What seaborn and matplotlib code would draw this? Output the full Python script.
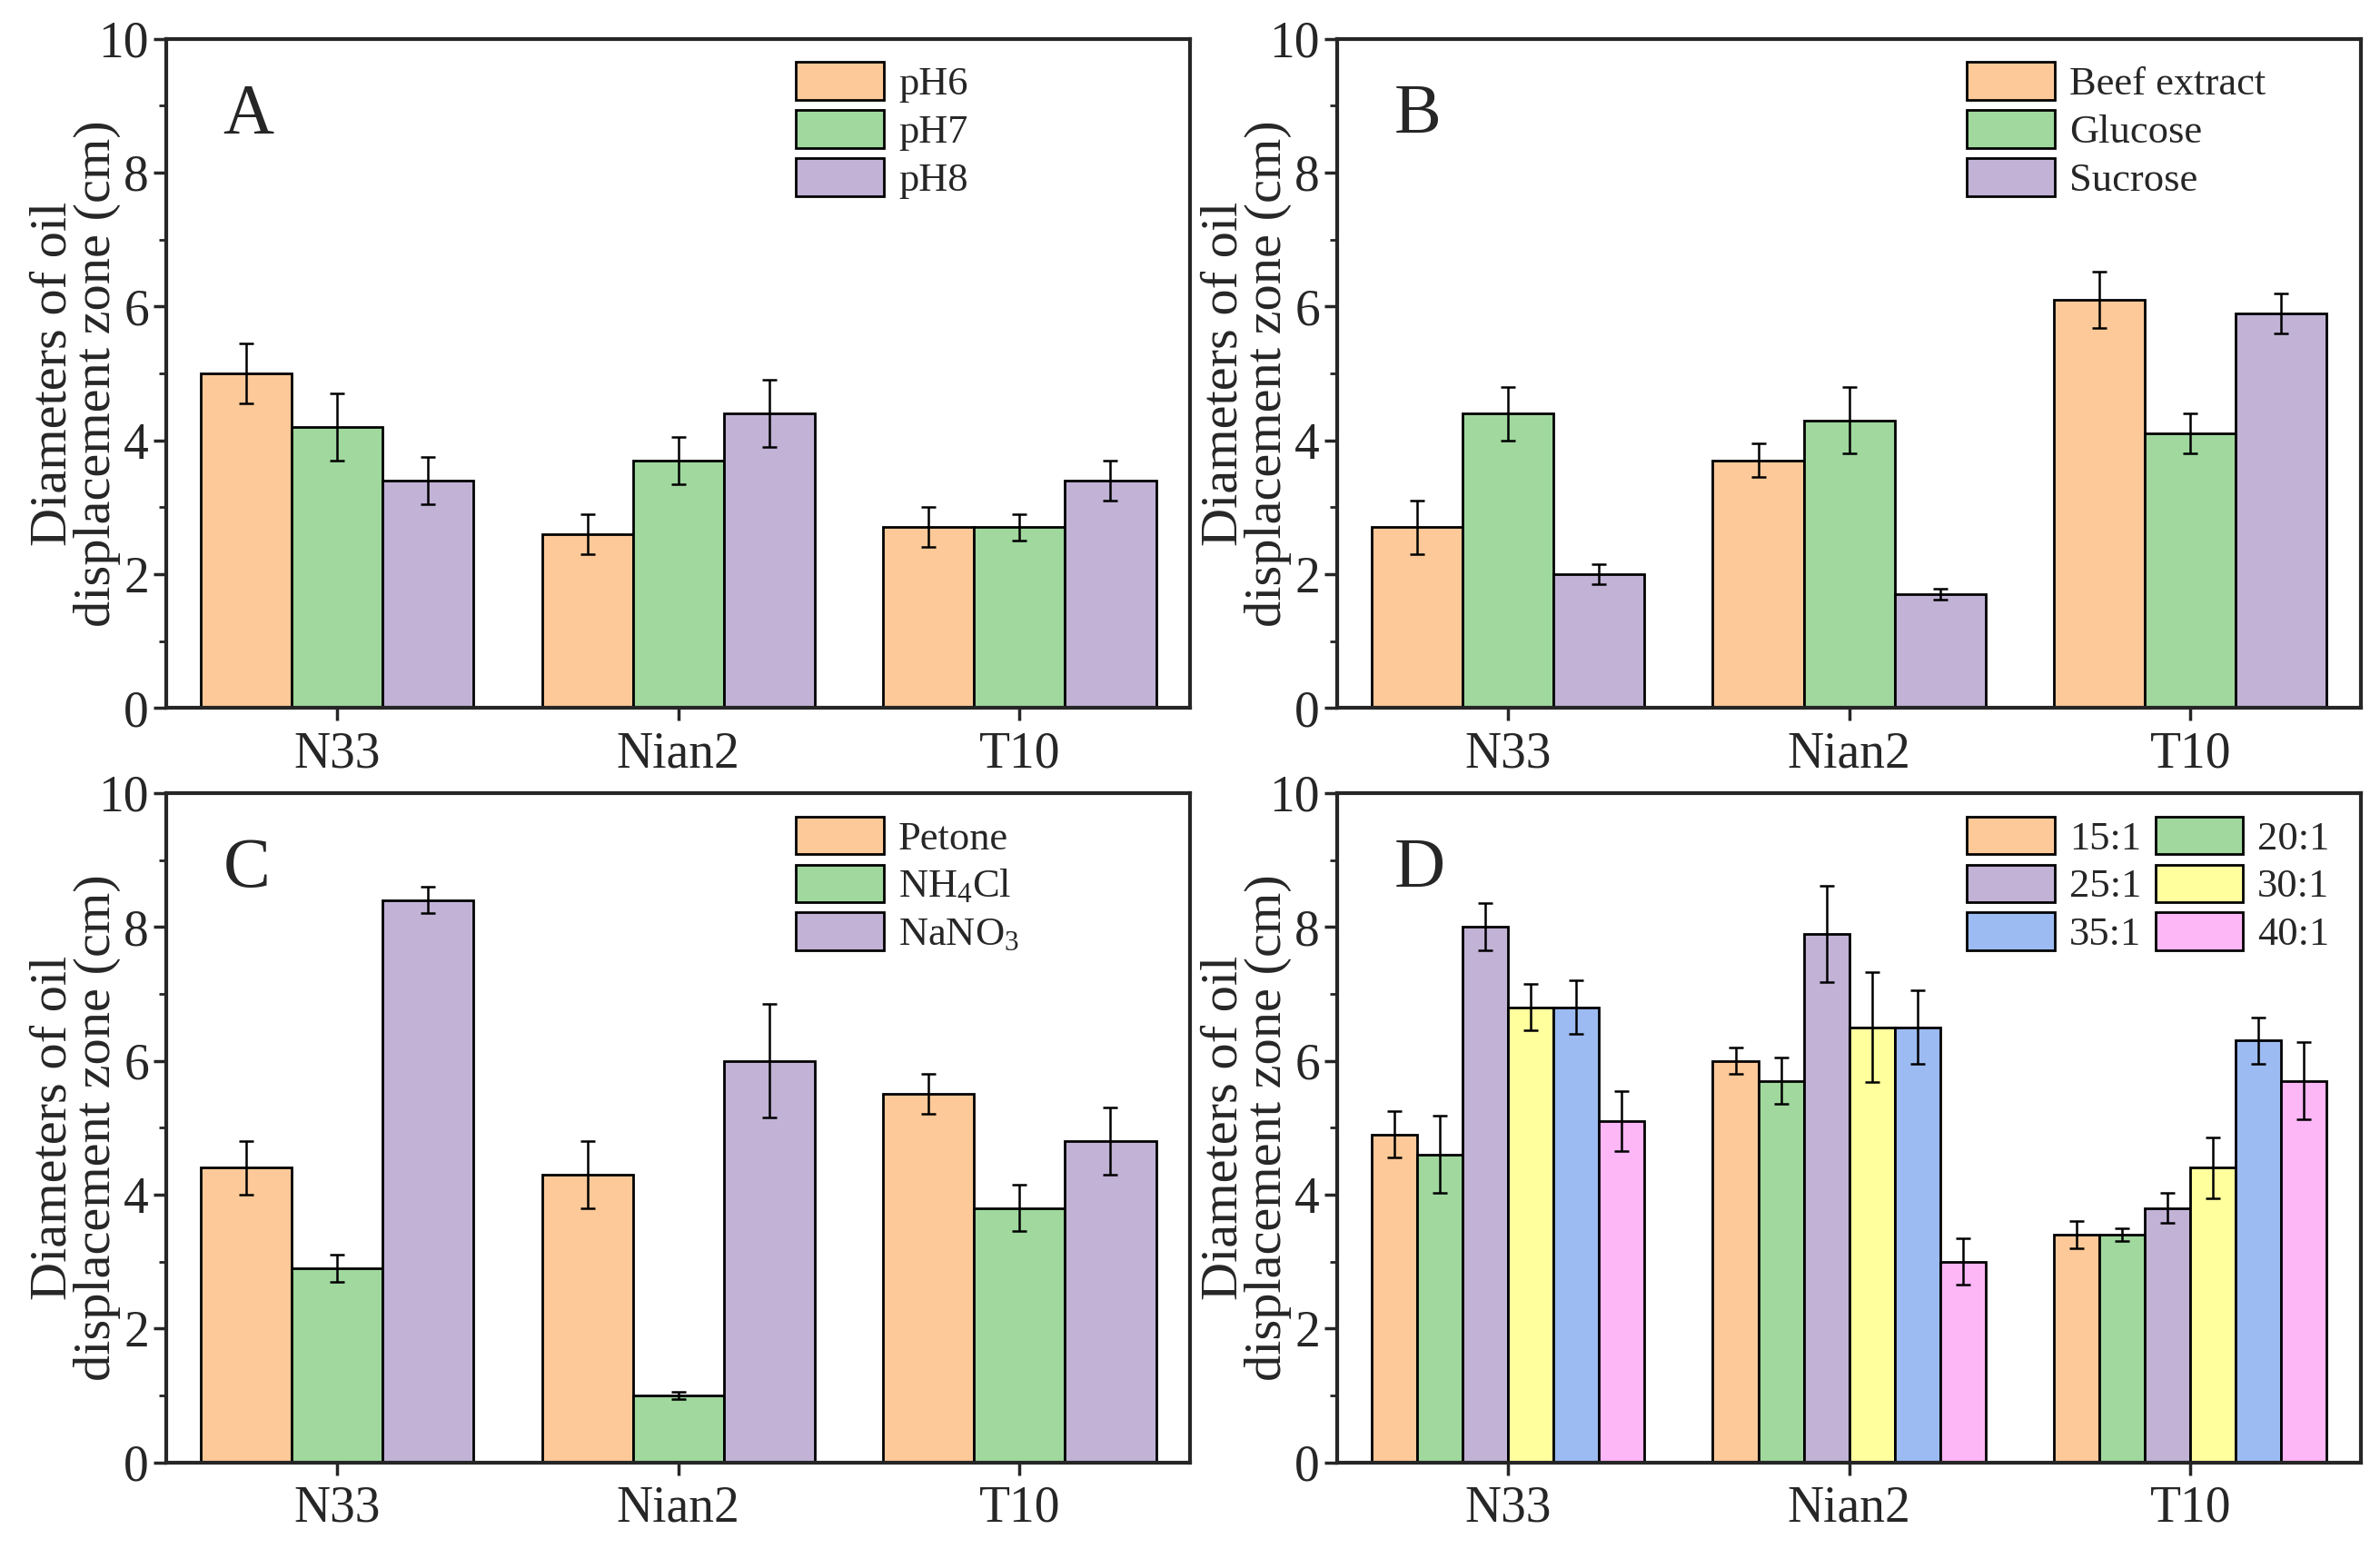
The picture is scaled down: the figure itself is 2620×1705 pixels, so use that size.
import pandas as pd
import seaborn as sns
import matplotlib.pyplot as plt
from matplotlib.ticker import MultipleLocator

strains = ['N33', 'Nian2', 'T10']

# A - pH
ph_labels = ['pH6', 'pH7', 'pH8']
ph_vals = [[5.0, 2.6, 2.7], [4.2, 3.7, 2.7], [3.4, 4.4, 3.4]]
ph_err = [[0.45, 0.3, 0.3], [0.5, 0.35, 0.2], [0.35, 0.5, 0.3]]

# B - carbon source
c_labels = ['Beef extract', 'Glucose', 'Sucrose']
c_vals = [[2.7, 3.7, 6.1], [4.4, 4.3, 4.1], [2.0, 1.7, 5.9]]
c_err = [[0.4, 0.25, 0.42], [0.4, 0.5, 0.3], [0.15, 0.08, 0.3]]

# C - nitrogen source
n_labels = ['Petone', 'NH$_{4}$Cl', 'NaNO$_{3}$']
n_vals = [[4.4, 4.3, 5.5], [2.9, 1.0, 3.8], [8.4, 6.0, 4.8]]
n_err = [[0.4, 0.5, 0.3], [0.2, 0.05, 0.35], [0.2, 0.85, 0.5]]

# D - C/N ratio
r_labels = ['15:1', '20:1', '25:1', '30:1', '35:1', '40:1']
r_vals = [[4.9, 6.0, 3.4], [4.6, 5.7, 3.4], [8.0, 7.9, 3.8],
          [6.8, 6.5, 4.4], [6.8, 6.5, 6.3], [5.1, 3.0, 5.7]]
r_err = [[0.35, 0.2, 0.2], [0.58, 0.35, 0.1], [0.35, 0.72, 0.22],
         [0.35, 0.82, 0.45], [0.4, 0.55, 0.35], [0.45, 0.35, 0.58]]

colors = ['#FDC998', '#A0D89E', '#C1B2D6', '#FFFF9E', '#9CBBF2', '#FDB6F6']

sns.set_style('ticks')
plt.rcParams['font.family'] = ['Liberation Serif', 'DejaVu Serif']
plt.rcParams['mathtext.fontset'] = 'custom'
plt.rcParams['mathtext.rm'] = 'Liberation Serif'
plt.rcParams['mathtext.it'] = 'Liberation Serif:italic'


def draw_panel(ax, labels, vals, errs, letter, ncol=1):
    df = pd.DataFrame({
        'strain': strains * len(labels),
        'group': [l for l in labels for _ in strains],
        'value': [v for row in vals for v in row],
    })
    sns.barplot(data=df, x='strain', y='value', hue='group',
                palette=colors[:len(labels)], saturation=1,
                edgecolor='black', linewidth=2, errorbar=None, ax=ax)
    for cont, err in zip(ax.containers, errs):
        xs = [p.get_x() + p.get_width() / 2 for p in cont]
        hs = [p.get_height() for p in cont]
        ax.errorbar(xs, hs, yerr=err, fmt='none', ecolor='black',
                    elinewidth=1.8, capsize=6, capthick=1.8)

    ax.set_ylim(0, 10)
    ax.set_xlim(-0.5, 2.5)
    ax.yaxis.set_major_locator(MultipleLocator(2))
    ax.yaxis.set_minor_locator(MultipleLocator(1))
    ax.tick_params(axis='both', which='major', labelsize=40, width=2.5, length=10, direction='out')
    ax.tick_params(axis='y', which='minor', width=2, length=6, direction='out')
    ax.tick_params(axis='x', pad=8)
    ax.tick_params(axis='y', pad=4)
    for s in ax.spines.values():
        s.set_linewidth(3)
        s.set_visible(True)
    ax.set_xlabel('')
    ax.set_ylabel('Diameters of oil\ndisplacement zone (cm)', fontsize=42,
                  linespacing=0.9)
    ax.yaxis.set_label_coords(-0.045, 0.5)
    ax.text(0.055, 0.885, letter, transform=ax.transAxes, fontsize=56,
            ha='left', va='center')

    handles, labs = ax.get_legend_handles_labels()
    if ncol == 2:
        order = [0, 2, 4, 1, 3, 5]
        handles = [handles[i] for i in order]
        labs = [labs[i] for i in order]
    ax.legend(handles, labs, loc='upper left', bbox_to_anchor=(0.615, 0.965),
              ncol=ncol, frameon=False, fontsize=32, borderaxespad=0,
              borderpad=0, handlelength=2.18, handleheight=1.06,
              labelspacing=0.18, handletextpad=0.35, columnspacing=0.35)


fig, axes = plt.subplots(2, 2, figsize=(26.2, 17.05), dpi=100)
fig.subplots_adjust(left=0.070, right=0.992, bottom=0.056, top=0.975,
                    wspace=0.144, hspace=0.127)

draw_panel(axes[0, 0], ph_labels, ph_vals, ph_err, 'A')
draw_panel(axes[0, 1], c_labels, c_vals, c_err, 'B')
draw_panel(axes[1, 0], n_labels, n_vals, n_err, 'C')
draw_panel(axes[1, 1], r_labels, r_vals, r_err, 'D', ncol=2)

fig.savefig('out.png', dpi=100)
